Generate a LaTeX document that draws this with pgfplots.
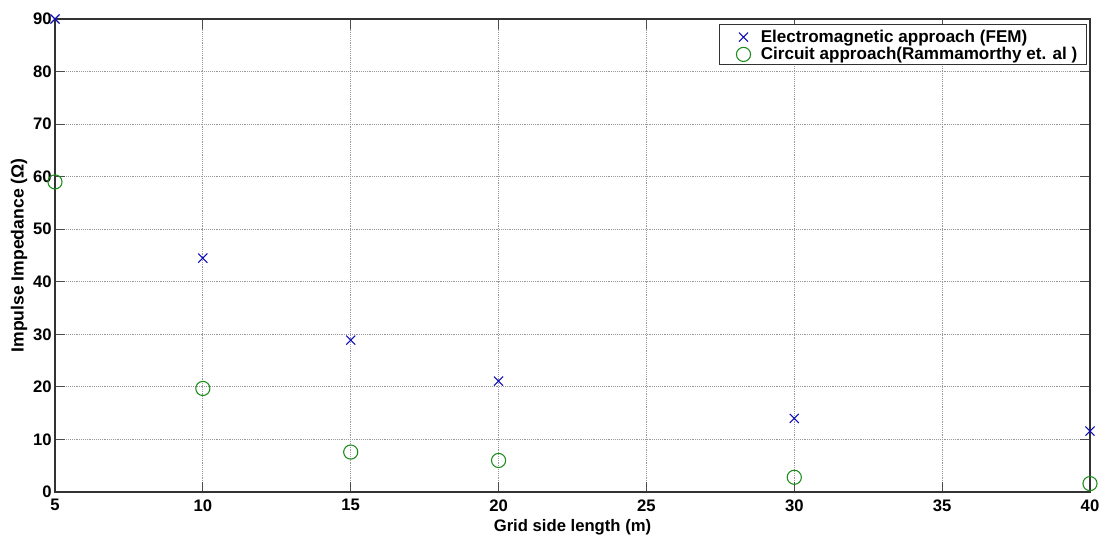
\documentclass[border=0pt]{standalone}
\usepackage{pgfplots}
\pgfplotsset{compat=1.18}
\usepackage{fontspec}
\setmainfont{Liberation Sans}
\definecolor{mblue}{rgb}{0.05,0.05,0.72}
\definecolor{mgreen}{rgb}{0.1,0.55,0.1}
\begin{document}
\begin{tikzpicture}
\begin{axis}[
  name=ax,
  scale only axis,
  width=776.25pt, height=354.75pt,
  xmin=5, xmax=40, ymin=0, ymax=90,
  xtick={5,10,...,40}, ytick={0,10,...,90},
  grid=major,
  major grid style={densely dotted, gray!80, line width=0.6pt},
  axis line style={black!80, line width=0.8pt},
  tick style={black!70, line width=0.8pt},
  tick align=inside,
  major tick length=7.5pt,
  ticklabel style={font=\bfseries\fontsize{12.5}{14}\selectfont},
  /pgf/number format/assume math mode=true,
  xticklabel style={anchor=center, yshift=-10pt},
  yticklabel style={xshift=1pt},
  xlabel={Grid side length (m)},
  ylabel={Impulse Impedance (Ω)},
  label style={font=\bfseries\fontsize{12.5}{14}\selectfont},
  xlabel style={at={(axis description cs:0.5,-0.074)}, anchor=center},
  ylabel style={at={(axis description cs:-0.0348,0.5)}, anchor=center, font=\bfseries\fontsize{13.2}{15}\selectfont},
  legend style={at={(axis description cs:1,1)}, anchor=north east,
    xshift=-2.25pt, yshift=-3.75pt,
    draw=black!80, line width=0.6pt,
    font=\bfseries\fontsize{12.8}{14}\selectfont,
    inner xsep=3pt, inner ysep=2pt, row sep=0pt,
    nodes={text height=11pt, text depth=1pt, inner ysep=0.5pt, inner xsep=4pt},
    cells={anchor=west}},
  legend image code/.code={\path[draw=none,fill=none] (0pt,-1pt) rectangle (24pt,-1pt);
    \draw[mark repeat=2,mark phase=2] plot coordinates {(0pt,-1pt) (15pt,-1pt) (24pt,-1pt)};},
  legend cell align=left,
  clip=false,
]
\addplot[only marks, mark=x, mark size=4.8pt, mblue, line width=0.8pt] coordinates {
(5,90) (10,44.5) (15,28.9) (20,21.1) (30,14) (40,11.6)};
\addlegendentry{Electromagnetic approach (FEM)}
\addplot[only marks, mark=o, mark size=5.3pt, mgreen, line width=0.8pt] coordinates {
(5,59) (10,19.7) (15,7.6) (20,6.0) (30,2.8) (40,1.6)};
\addlegendentry{Circuit approach(Rammamorthy et. al )}
\end{axis}
\pgfresetboundingbox
\path ([shift={(-41.25pt,-36pt)}]ax.south west) rectangle ([shift={(18pt,14.25pt)}]ax.north east);
\end{tikzpicture}
\end{document}
